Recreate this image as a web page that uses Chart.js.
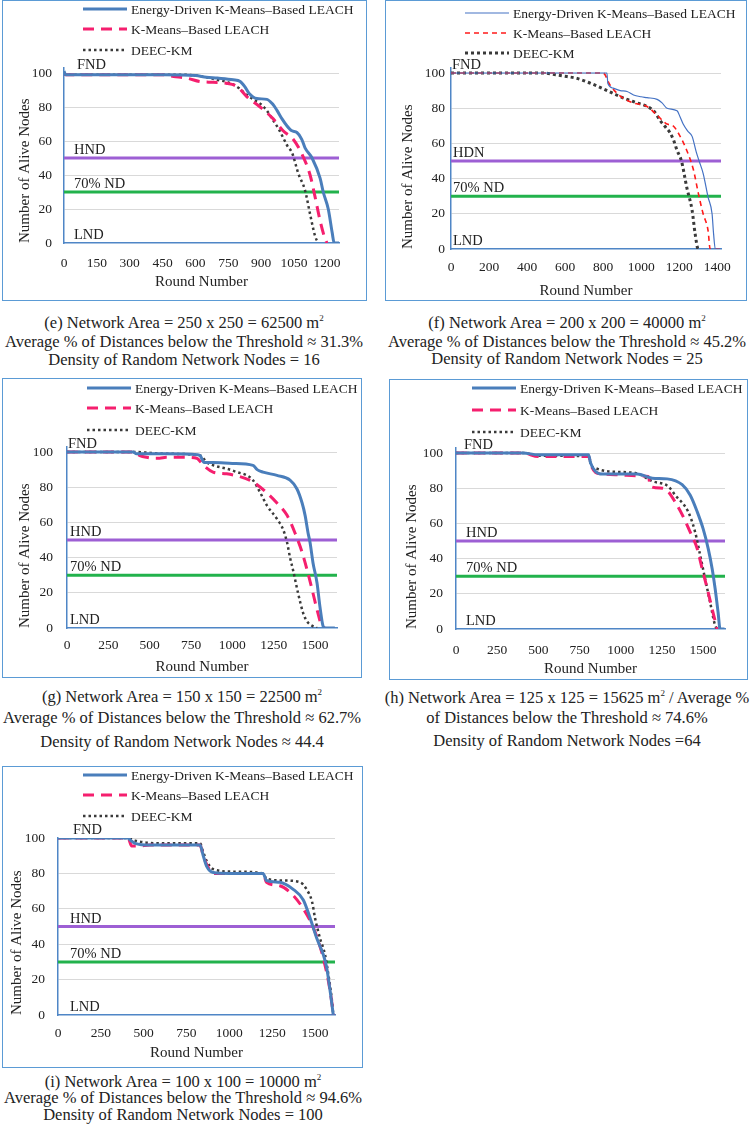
<!DOCTYPE html>
<html><head><meta charset="utf-8">
<script src="https://cdn.jsdelivr.net/npm/chart.js@4.4.1/dist/chart.umd.min.js"></script>
<style>
html,body{margin:0;padding:0;background:#fff;}
body{width:755px;height:1135px;position:relative;overflow:hidden;font-family:"Liberation Serif",serif;color:#222;}
.box{position:absolute;box-sizing:border-box;border:1.5px solid #5b9bd5;}
canvas{position:absolute;}
.cap{position:absolute;white-space:nowrap;font-size:16.5px;line-height:18px;transform:translateX(-50%);}
.cap sup{font-size:9px;vertical-align:7px;line-height:0;}
</style></head><body>
<script>
const SERIES_LABELS = ['Energy-Driven K-Means\u2013Based LEACH', 'K-Means\u2013Based LEACH', 'DEEC-KM'];
const HND_LEVEL = 50;
const ND70_LEVEL = 30;
const Y_TICKS = [0, 20, 40, 60, 80, 100];

// (e) 250 x 250
const E_XTICKS = [0,150,300,450,600,750,900,1050,1200];
const E_EDKM_X = [0,8,150,450,600,650,700,772,804,825,845,880,926,950,972,995,1017,1040,1063,1085,1100,1132,1169,1183,1206,1224,1233,1255];
const E_EDKM_Y = [101,99,99,99,98.5,97.5,97,96,95,92,88,85,84.5,82,78,73,69,66,65,61,56,50,38,30,20,6,0,0];
const E_KM_X = [0,8,450,500,560,620,680,740,790,835,895,955,1000,1046,1087,1123,1146,1169,1190,1200];
const E_KM_Y = [100,99,99,98,97,95,94.5,94,92,86,80,73,66,61,52,40,27,13,3,0];
const E_DEEC_X = [0,8,550,600,650,700,760,800,835,870,895,925,955,980,1000,1020,1041,1069,1100,1123,1146,1160];
const E_DEEC_Y = [100,99,99,98.5,97.5,96,94,91,87,84,82,78,72,67,62,57,53,41,31,17,4,0];

// (f) 200 x 200
const F_XTICKS = [0,200,400,600,800,1000,1200,1400];
const F_EDKM_X = [0,820,825,853,890,926,960,1000,1031,1084,1110,1136,1189,1205,1221,1245,1268,1290,1305,1326,1352,1373,1381,1390,1420];
const F_EDKM_Y = [100,100,94,91.4,90,89.5,87.5,86.5,86,85,83,80,78.5,75,71,67,64,55,50,43,29.5,20,8.6,0,0];
const F_KM_X = [0,800,837,889,958,1031,1084,1136,1168,1205,1240,1275,1300,1326,1352,1363,1420];
const F_KM_Y = [100,100,93,87,83,81,76,71,70,64,56,45,32,20,10.5,0,0];
const F_DEEC_X = [0,484,550,609,660,714,770,821,870,926,980,1031,1070,1100,1130,1152,1170,1189,1212,1240,1268,1284,1300,1310];
const F_DEEC_Y = [100,100,99,98,97,95,92.5,90,87.5,85,83,81,78,73,69,66,62,56,50,35,22,8.6,0,0];

// (g) 150 x 150
const G_XTICKS = [0,250,500,750,1000,1250,1500];
const G_EDKM_X = [0,400,420,600,790,805,830,883,1000,1125,1150,1186,1270,1349,1391,1422,1440,1458,1470,1488,1512,1530,1549,1561,1620];
const G_EDKM_Y = [100,100,99,99,98.5,98,94,94,93.5,92.4,90,88.6,86.7,84,79,71,64,54,48.6,37,25.7,12,1,0,0];
const G_KM_X = [0,400,440,480,520,560,600,700,784,825,883,966,1046,1125,1206,1270,1331,1379,1422,1452,1482,1512,1542,1560];
const G_KM_Y = [100,100,98,97,96.5,96.5,97,97,96.5,92.4,88.6,87.6,86,83,77,71,64,54,43,33,22,10.5,1,0];
const G_DEEC_X = [0,400,600,805,847,900,966,1030,1089,1125,1168,1210,1270,1307,1331,1349,1367,1397,1428,1450,1470,1512];
const G_DEEC_Y = [100,100,99,98,94,92,90.5,88.5,86.7,84,77,69.5,62,56,48.6,40,33,20,8.6,4,2,0];

// (h) 125 x 125
const H_XTICKS = [0,250,500,750,1000,1250,1500];
const H_EDKM_X = [0,405,500,805,817,847,889,1000,1100,1192,1282,1373,1422,1464,1500,1531,1555,1573,1591,1603,1630];
const H_EDKM_Y = [100,100,99,99,94.3,89.5,88,88,88,85.7,85.3,82,76,66.7,57,45.7,34.3,23,9.5,0,0];
const H_KM_X = [0,405,500,805,820,847,900,1000,1100,1168,1180,1252,1289,1331,1373,1422,1464,1495,1525,1555,1585];
const H_KM_Y = [100,100,98,98,93,89,88,87.5,87,86.7,81,80,78,72,65,55,45.7,34,23,11.4,0];
const H_DEEC_X = [0,405,500,805,820,847,926,1089,1192,1289,1331,1409,1452,1482,1512,1543,1573,1585];
const H_DEEC_Y = [100,100,98.5,98,93,91.4,89.5,88.6,84,81,76,66.7,55,42,28.6,15,2,0];

// (i) 100 x 100
const I_XTICKS = [0,250,500,750,1000,1250,1500];
const I_EDKM_X = [0,409,420,450,537,829,848,868,907,1000,1197,1217,1295,1373,1432,1471,1510,1549,1568,1588,1607];
const I_EDKM_Y = [100,100,99,97,96,96,90,84,80.5,80,80,76,75,71,65,55,43.5,34,27,14,0];
const I_KM_X = [0,409,430,470,537,829,848,868,907,1000,1197,1217,1295,1373,1432,1483,1520,1549,1578,1597,1607];
const I_KM_Y = [100,100,95.5,95.5,96,96,90,85,80,80,80,75,73,67.6,60,51,41.7,32,19.4,8,0];
const I_DEEC_X = [0,409,450,600,829,848,868,907,1022,1197,1217,1315,1413,1451,1483,1500,1529,1559,1578,1597,1607];
const I_DEEC_Y = [100,100,98.5,97,97,92,87,82.4,81,80,77,76,75,71,64,55,43.5,34,23,10,0];

const CAPTIONS_E = ['(e) Network Area = 250 x 250 = 62500 m<sup>2</sup>', 'Average % of Distances below the Threshold \u2248 31.3%', 'Density of Random Network Nodes = 16'];
const CAPTIONS_F = ['(f) Network Area = 200 x 200 = 40000 m<sup>2</sup>', 'Average % of Distances below the Threshold \u2248 45.2%', 'Density of Random Network Nodes = 25'];
const CAPTIONS_G = ['(g) Network Area = 150 x 150 = 22500 m<sup>2</sup>', 'Average % of Distances below the Threshold \u2248 62.7%', 'Density of Random Network Nodes \u2248 44.4'];
const CAPTIONS_H = ['(h) Network Area = 125 x 125 = 15625 m<sup>2</sup> / Average %', 'of Distances below the Threshold \u2248 74.6%', 'Density of Random Network Nodes =64'];
const CAPTIONS_I = ['(i) Network Area = 100 x 100 = 10000 m<sup>2</sup>', 'Average % of Distances below the Threshold \u2248 94.6%', 'Density of Random Network Nodes = 100'];

const PURPLE = '#9d5fd4', GREEN = '#22b24c', GRID = '#d9d9d9', AXIS = '#4f86c6', TEXT = '#222';
const FONT = '"Liberation Serif", "Times New Roman", serif';
const STYLE_THICK = [
  {color:'#4a7ebb', width:3, dash:[]},
  {color:'#f51f6e', width:3, dash:[11,7]},
  {color:'#3a3a3a', width:2.5, dash:[2.5,3]}
];
const STYLE_THIN = [
  {color:'#4472c4', width:1.2, dash:[]},
  {color:'#ff1a1a', width:1.6, dash:[5,4]},
  {color:'#3a3a3a', width:3, dash:[3,3]}
];

const PANELS = [
  {box:[2,0,365,301], y100:73, y0:243, pl:62, pr:337, xMax:1255, xTicks:E_XTICKS, yMax:103,
   series:[[E_EDKM_X,E_EDKM_Y],[E_KM_X,E_KM_Y],[E_DEEC_X,E_DEEC_Y]], style:STYLE_THICK,
   tickPadX:12, tickPadY:12, titlePadX:10, titlePadY:14, legX:81, legRows:[9,29,50], fndDx:13, dx:10, hnd:'HND',
   caption:CAPTIONS_E, capX:184, capY:[323,342,360]},
  {box:[385,0,362,301], y100:73, y0:249, pl:66, pr:336, xMax:1420, xTicks:F_XTICKS, yMax:103,
   series:[[F_EDKM_X,F_EDKM_Y],[F_KM_X,F_KM_Y],[F_DEEC_X,F_DEEC_Y]], style:STYLE_THIN,
   tickPadX:10, tickPadY:6, titlePadX:1, titlePadY:14, legX:80, legRows:[13,33,53], fndDx:1, dx:2, hnd:'HDN',
   caption:CAPTIONS_F, capX:567, capY:[323,342,359]},
  {box:[2,378,360,300], y100:74, y0:250, pl:65, pr:335, xMax:1633, xTicks:G_XTICKS, yMax:103,
   series:[[G_EDKM_X,G_EDKM_Y],[G_KM_X,G_KM_Y],[G_DEEC_X,G_DEEC_Y]], style:STYLE_THICK,
   tickPadX:9, tickPadY:14, titlePadX:2, titlePadY:14, legX:85, legRows:[10,30,52], fndDx:1, dx:3, hnd:'HND',
   caption:CAPTIONS_G, capX:182, capY:[697,718,742]},
  {box:[389,379,359,301], y100:74, y0:250, pl:67, pr:336, xMax:1633, xTicks:H_XTICKS, yMax:103,
   series:[[H_EDKM_X,H_EDKM_Y],[H_KM_X,H_KM_Y],[H_DEEC_X,H_DEEC_Y]], style:STYLE_THICK,
   tickPadX:13, tickPadY:13, titlePadX:2, titlePadY:14, legX:83, legRows:[9,31,53], fndDx:8, dx:10, hnd:'HND',
   caption:CAPTIONS_H, capX:567, capY:[698,718,741]},
  {box:[2,766,361,302], y100:72, y0:249, pl:56, pr:333, xMax:1617, xTicks:I_XTICKS, yMax:100,
   series:[[I_EDKM_X,I_EDKM_Y],[I_KM_X,I_KM_Y],[I_DEEC_X,I_DEEC_Y]], style:STYLE_THICK,
   tickPadX:10, tickPadY:13, titlePadX:6, titlePadY:6, legX:81, legRows:[9,29,50], fndDx:15, dx:12, hnd:'HND',
   caption:CAPTIONS_I, capX:183, capY:[1082,1098,1115]}
];

function pts(xs, ys) { return xs.map((x, i) => ({x: x, y: ys[i]})); }

const legendPlugin = {
  id: 'boxLegend',
  afterDraw(chart, args, o) {
    const ctx = chart.ctx;
    ctx.save();
    chart.data.datasets.forEach((ds, i) => {
      if (!ds.inLegend) return;
      const y = o.rows[i];
      ctx.beginPath();
      ctx.setLineDash(ds.borderDash || []);
      ctx.lineWidth = ds.borderWidth;
      ctx.strokeStyle = ds.borderColor;
      ctx.moveTo(o.x, y); ctx.lineTo(o.x + 44, y); ctx.stroke();
      ctx.setLineDash([]);
      ctx.fillStyle = TEXT;
      ctx.font = '13.5px ' + FONT;
      ctx.textBaseline = 'middle';
      ctx.textAlign = 'left';
      ctx.fillText(ds.label, o.x + 48, y + 1);
    });
    ctx.restore();
  }
};

const refLabelPlugin = {
  id: 'refLabels',
  afterDatasetsDraw(chart, args, o) {
    const ctx = chart.ctx, ys = chart.scales.y, left = chart.chartArea.left;
    ctx.save();
    ctx.fillStyle = TEXT;
    ctx.font = '14.5px ' + FONT;
    ctx.textBaseline = 'alphabetic';
    ctx.textAlign = 'left';
    o.items.forEach(it => {
      ctx.fillText(it[0], left + it[2], ys.getPixelForValue(it[1]) - 4);
    });
    ctx.restore();
  }
};

PANELS.forEach(p => {
  const [bl, bt, bw, bh] = p.box;
  const div = document.createElement('div');
  div.className = 'box';
  Object.assign(div.style, {left: bl + 'px', top: bt + 'px', width: bw + 'px', height: bh + 'px'});
  document.body.appendChild(div);
  const cv = document.createElement('canvas');
  cv.width = bw; cv.height = bh;
  Object.assign(cv.style, {left: bl + 'px', top: bt + 'px', width: bw + 'px', height: bh + 'px'});
  document.body.appendChild(cv);

  const padTop = p.y0 - (p.y0 - p.y100) * p.yMax / 100;
  const datasets = p.series.map((s, i) => ({
    label: SERIES_LABELS[i], data: pts(s[0], s[1]), inLegend: true,
    borderColor: p.style[i].color, borderWidth: p.style[i].width, borderDash: p.style[i].dash,
    pointRadius: 0, fill: false, cubicInterpolationMode: 'monotone', borderJoinStyle: 'round'
  }));
  datasets.push({label: p.hnd, data: [{x: 0, y: HND_LEVEL}, {x: p.xMax, y: HND_LEVEL}], borderColor: PURPLE, borderWidth: 3, pointRadius: 0});
  datasets.push({label: '70% ND', data: [{x: 0, y: ND70_LEVEL}, {x: p.xMax, y: ND70_LEVEL}], borderColor: GREEN, borderWidth: 3, pointRadius: 0});

  new Chart(cv, {
    type: 'line',
    data: {datasets: datasets},
    plugins: [legendPlugin, refLabelPlugin],
    options: {
      responsive: false, animation: false, events: [],
      layout: {padding: {left: 0, top: padTop, right: bw - p.pr, bottom: 0}},
      plugins: {
        legend: {display: false}, tooltip: {enabled: false},
        boxLegend: {x: p.legX, rows: p.legRows},
        refLabels: {items: [['FND', 100, p.fndDx], [p.hnd, HND_LEVEL, p.dx], ['70% ND', ND70_LEVEL, p.dx], ['LND', 0, p.dx]]}
      },
      scales: {
        x: {
          type: 'linear', min: 0, max: p.xMax,
          afterBuildTicks: (s) => { s.ticks = p.xTicks.map(v => ({value: v})); },
          ticks: {autoSkip: false, maxRotation: 0, minRotation: 0,
                  callback: (v) => String(v),
                  padding: p.tickPadX, color: TEXT, font: {family: FONT, size: 13.5}},
          grid: {display: false, drawTicks: false},
          border: {color: AXIS, width: 1.5},
          title: {display: true, text: 'Round Number', color: TEXT, font: {family: FONT, size: 15},
                  padding: {top: 0, bottom: p.titlePadX}},
          afterFit: (s) => { s.height = bh - p.y0; }
        },
        y: {
          min: 0, max: p.yMax,
          afterBuildTicks: (s) => { s.ticks = Y_TICKS.map(v => ({value: v})); },
          ticks: {padding: p.tickPadY, color: TEXT, callback: (v) => String(v), font: {family: FONT, size: 13.5}},
          grid: {drawTicks: false, color: (c) => (c.tick && c.tick.value === 0) ? 'rgba(0,0,0,0)' : GRID},
          border: {color: AXIS, width: 1.5},
          title: {display: true, text: 'Number of Alive Nodes', align: 'start', color: TEXT, font: {family: FONT, size: 15},
                  padding: {top: p.titlePadY, bottom: 0}},
          afterFit: (s) => { s.width = p.pl; }
        }
      }
    }
  });

  p.caption.forEach((t, i) => {
    const c = document.createElement('div');
    c.className = 'cap';
    c.innerHTML = t;
    c.style.left = p.capX + 'px';
    c.style.top = (p.capY[i] - 9) + 'px';
    document.body.appendChild(c);
  });
});
</script>
</body></html>
